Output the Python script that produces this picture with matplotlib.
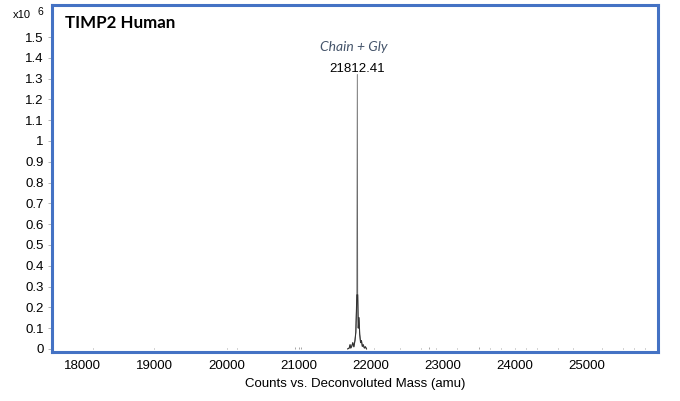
import numpy as np
import matplotlib
matplotlib.use("Agg")
import matplotlib.pyplot as plt

# deconvoluted spectrum around the main peak (intensity in 1e6 counts)
peak_mass = [21680, 21700, 21712, 21722, 21735, 21750, 21765, 21780, 21792, 21800,
             21806, 21812.41, 21818, 21826, 21836, 21846, 21858, 21870, 21882,
             21895, 21910, 21925, 21940]
peak_int = [0.0, 0.004, 0.02, 0.004, 0.012, 0.03, 0.01, 0.04, 0.08, 0.18,
            0.26, 1.32, 0.27, 0.1, 0.15, 0.07, 0.03, 0.04, 0.012,
            0.02, 0.004, 0.01, 0.0]

# small baseline peaks
noise_mass = [18150, 19000, 20000, 20150, 20950, 21000, 21030, 22050, 22400, 22700,
              22800, 22900, 23200, 23500, 23650, 23800, 24000, 24150, 24300, 24600,
              24800, 25200, 25500, 25650, 25800]
noise_int = [0.005, 0.006, 0.004, 0.004, 0.008, 0.01, 0.008, 0.006, 0.006, 0.005,
             0.008, 0.006, 0.005, 0.007, 0.005, 0.006, 0.005, 0.006, 0.005, 0.006,
             0.005, 0.006, 0.005, 0.005, 0.004]

peak_label = "21812.41"
peak_name = "Chain + Gly"
title = "TIMP2 Human"
xticks = [18000, 19000, 20000, 21000, 22000, 23000, 24000, 25000]
yticks = [0, 0.1, 0.2, 0.3, 0.4, 0.5, 0.6, 0.7, 0.8, 0.9, 1, 1.1, 1.2, 1.3, 1.4, 1.5]

plt.rcParams['font.family'] = ['Liberation Sans', 'DejaVu Sans']
blue = '#4472c4'

fig = plt.figure(figsize=(6.8, 4.01), dpi=100)
ax = fig.add_axes([0.0765, 0.1222, 0.891, 0.8653])

ax.vlines(noise_mass, 0, noise_int, color='#999999', lw=0.6)
ax.plot(peak_mass, peak_int, color='#666666', lw=0.6)
# denser lower part of the peak
ax.plot(peak_mass, np.minimum(peak_int, 0.26), color='#333333', lw=0.8)

ax.set_xlim(17580, 25980)
ax.set_ylim(-0.015, 1.654)

ax.set_xticks(xticks)
ax.set_xticklabels([str(v) for v in xticks])
ax.set_yticks(yticks)
ax.set_yticklabels(['%g' % v for v in yticks])
ax.tick_params(axis='x', length=0, pad=6, labelsize=9.5)
ax.tick_params(axis='y', length=3, width=0.6, color='#aaaaaa', pad=3, labelsize=9.5)

for sp in ax.spines.values():
    sp.set_color(blue)
    sp.set_linewidth(2.2)

ax.set_xlabel("Counts vs. Deconvoluted Mass (amu)", fontsize=9.5, labelpad=4)

ax.text(21812.41, 1.346, peak_label, ha='center', va='center', fontsize=9.5)
ax.text(21760, 1.452, peak_name, ha='center', va='center', fontsize=10,
        style='italic', color='#44546a', family=['Lato', 'DejaVu Sans'])
ax.text(0.021, 0.948, title, transform=ax.transAxes, ha='left', va='center',
        fontsize=12.2, fontweight='bold', family=['Lato', 'DejaVu Sans'])

fig.text(13 / 680, 1 - 15 / 401, "x10", fontsize=8, ha='left', va='center')
fig.text(38 / 680, 1 - 12 / 401, "6", fontsize=7.5, ha='left', va='center')

fig.savefig("out.png", dpi=100)
